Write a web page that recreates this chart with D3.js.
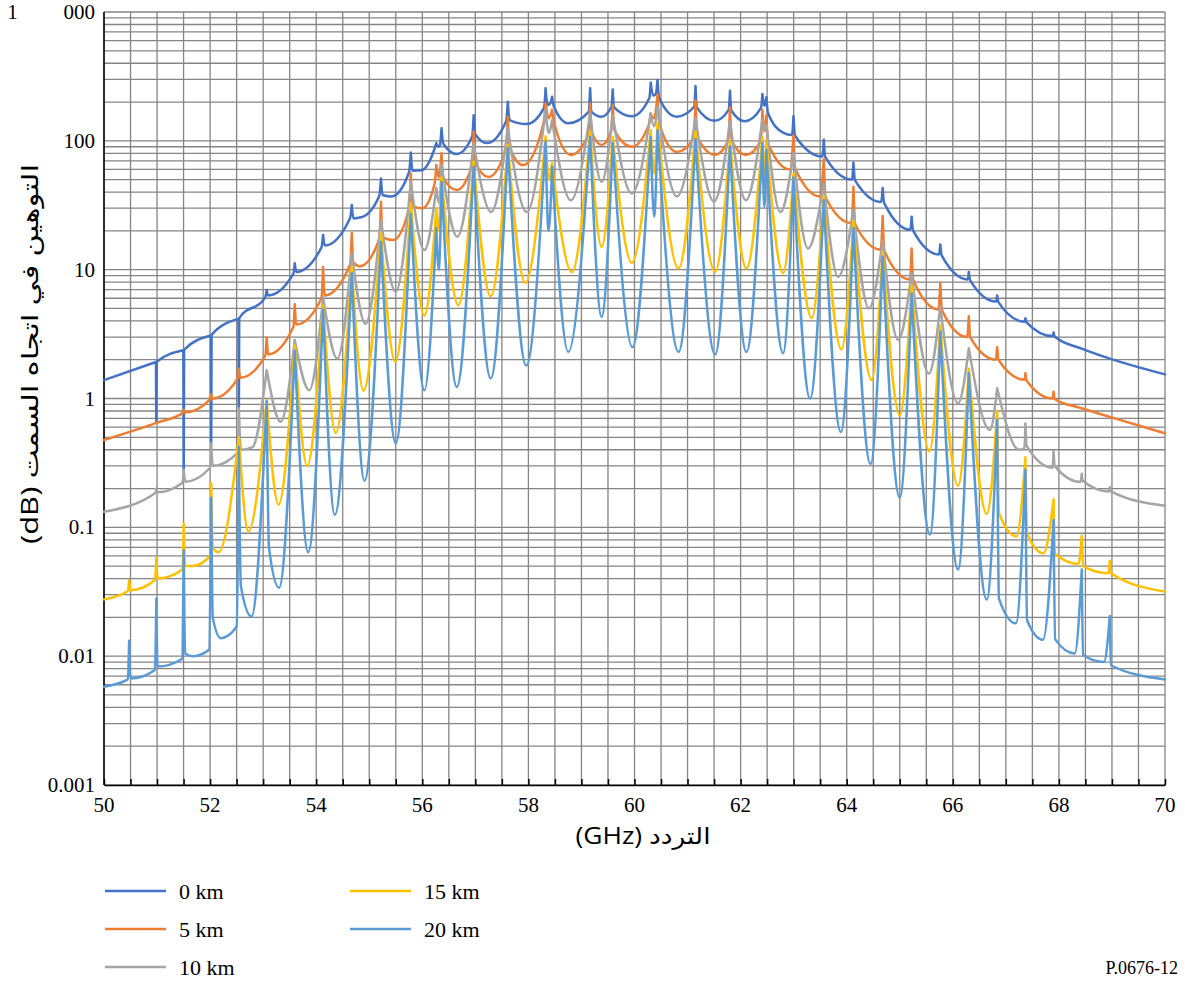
<!DOCTYPE html>
<html>
<head>
<meta charset="utf-8">
<script src="https://cdn.jsdelivr.net/npm/d3@7/dist/d3.min.js"></script>
<style>
  body { margin: 0; background: #fff; }
  text { fill: #000; }
  .serif { font-family: "Liberation Serif", "Times New Roman", serif; }
  .sans { font-family: "Open Sans", "DejaVu Sans", sans-serif; }
</style>
</head>
<body>
<svg id="chart" width="1188" height="981"></svg>
<script>
// series names and colours
const seriesNames = ["0 km", "5 km", "10 km", "15 km", "20 km"];
const seriesColors = ["#4472C4", "#ED7D31", "#A5A5A5", "#FFC000", "#5B9BD5"];

// axis ticks
const xTickValues = [50, 52, 54, 56, 58, 60, 62, 64, 66, 68, 70];
const yTickValues = [0.001, 0.01, 0.1, 1, 10, 100, 1000];
const yTickLabels = ["0.001", "0.01", "0.1", "1", "10", "100", "1 000"];

// zenith attenuation (dB) against frequency (GHz)
const km0 = [
  [50.0, 1.39], [50.98, 1.92], [50.987, 0.65], [50.994, 1.93],
  [51.496, 2.37], [51.503, 0.27], [51.51, 2.39],
  [52.014, 3.08], [52.021, 0.45], [52.028, 3.12],
  [52.535, 4.15], [52.542, 0.84], [52.549, 4.2],
  [53.04, 6.1], [53.067, 6.95], [53.095, 6.3],
  [53.57, 9.3], [53.596, 11.2], [53.625, 9.6],
  [54.10, 14.9], [54.13, 18.6], [54.16, 15.4],
  [54.64, 25.2], [54.671, 31.8], [54.70, 25.0], [54.85, 25.5],
  [55.19, 37.5], [55.221, 51], [55.25, 38], [55.42, 37],
  [55.75, 57], [55.784, 81], [55.815, 58.5], [55.98, 59],
  [56.235, 88], [56.264, 96], [56.30, 90], [56.33, 92], [56.363, 125], [56.395, 95], [56.65, 79],
  [56.94, 108], [56.968, 158], [57.0, 112], [57.22, 96],
  [57.58, 142], [57.612, 201], [57.645, 145], [57.97, 135],
  [58.295, 180], [58.324, 256], [58.36, 190], [58.415, 196], [58.446, 220], [58.48, 185], [58.75, 137],
  [59.135, 168], [59.164, 256], [59.19, 168], [59.38, 154],
  [59.565, 184], [59.59, 250], [59.615, 182], [59.95, 155],
  [60.28, 215], [60.306, 283], [60.35, 225], [60.40, 230], [60.434, 297], [60.465, 215], [60.79, 154],
  [61.125, 184], [61.15, 266], [61.175, 182], [61.51, 143],
  [61.775, 174], [61.8, 245], [61.825, 172], [62.08, 142],
  [62.385, 180], [62.411, 231], [62.448, 187], [62.486, 218], [62.515, 165], [62.80, 116],
  [62.97, 111], [62.997, 156], [63.025, 110],
  [63.54, 75.5], [63.568, 102], [63.595, 75],
  [64.10, 50], [64.127, 68], [64.155, 49.5],
  [64.65, 33.5], [64.678, 43], [64.705, 33],
  [65.20, 20.4], [65.224, 25.8], [65.25, 20.2],
  [65.74, 13.1], [65.764, 15.7], [65.79, 12.9],
  [66.28, 8.4], [66.302, 9.6], [66.325, 8.3],
  [66.815, 5.65], [66.836, 6.3], [66.86, 5.6],
  [67.35, 3.95], [67.369, 4.19], [67.39, 3.9],
  [67.88, 3.05], [67.9, 3.25], [67.92, 3.03],
  [68.43, 2.44], [68.96, 2.04], [70.0, 1.54]
];

const km5 = [
  [50.0, 0.476], [51.0, 0.65],
  [51.48, 0.77], [51.503, 0.82], [51.53, 0.78],
  [51.995, 0.98], [52.021, 1.08], [52.045, 1.0],
  [52.515, 1.42], [52.542, 1.7], [52.57, 1.45],
  [53.04, 2.15], [53.067, 2.98], [53.095, 2.2],
  [53.57, 3.6], [53.596, 5.4], [53.625, 3.75],
  [54.10, 6.0], [54.13, 10.5], [54.16, 6.3],
  [54.64, 11.0], [54.671, 19.3], [54.70, 11.4], [54.82, 10.6],
  [55.19, 17.3], [55.221, 33.7], [55.25, 17.8], [55.45, 17.0],
  [55.75, 30], [55.784, 55.8], [55.815, 31], [56.0, 30],
  [56.235, 47], [56.264, 65], [56.31, 52], [56.363, 80], [56.395, 52], [56.65, 41.5],
  [56.94, 65], [56.968, 118], [57.0, 68], [57.25, 52.4],
  [57.58, 88], [57.612, 154], [57.645, 90], [57.9, 64.8],
  [58.29, 140], [58.324, 195], [58.385, 150], [58.446, 174], [58.48, 140], [58.8, 77.7],
  [59.13, 112], [59.164, 195], [59.2, 115], [59.38, 93],
  [59.555, 118], [59.59, 190], [59.625, 120], [59.95, 90],
  [60.27, 133], [60.306, 163], [60.37, 150], [60.434, 228], [60.47, 135], [60.8, 82],
  [61.115, 105], [61.15, 207], [61.185, 107], [61.52, 77.7],
  [61.765, 100], [61.8, 182], [61.835, 100], [62.1, 77.7],
  [62.38, 100], [62.411, 174], [62.45, 120], [62.486, 158], [62.52, 95], [62.93, 60],
  [62.997, 110], [63.03, 61], [63.5, 37], [63.568, 72], [63.6, 36.5],
  [64.09, 23], [64.127, 44], [64.16, 22.5],
  [64.64, 14.3], [64.678, 26.1], [64.71, 14],
  [65.19, 8.4], [65.224, 14.6], [65.255, 8.3],
  [65.73, 4.9], [65.764, 7.9], [65.795, 4.85],
  [66.27, 3.0], [66.302, 4.34], [66.33, 2.98],
  [66.81, 2.0], [66.836, 2.5], [66.86, 2.0],
  [67.35, 1.4], [67.369, 1.57], [67.39, 1.38],
  [67.88, 1.0], [67.9, 1.13], [67.92, 0.99],
  [68.43, 0.84], [68.96, 0.72], [70.0, 0.537]
];

const km10 = [
  [50.0, 0.132], [50.98, 0.186], [50.987, 0.2], [51.0, 0.187],
  [51.48, 0.222], [51.503, 0.28], [51.53, 0.226],
  [52.0, 0.29], [52.021, 0.45], [52.05, 0.30],
  [52.52, 0.38], [52.542, 0.84], [52.58, 0.40], [52.8, 0.42],
  [53.067, 1.66], [53.33, 0.66],
  [53.596, 2.85], [53.87, 1.16],
  [54.13, 6.1], [54.40, 2.04],
  [54.671, 13.4], [54.93, 3.8],
  [55.221, 24.3], [55.5, 6.75],
  [55.784, 48], [56.04, 14.2],
  [56.264, 43], [56.32, 33], [56.363, 65], [56.66, 18],
  [56.968, 96], [57.3, 28],
  [57.612, 125], [57.97, 28],
  [58.324, 174], [58.385, 115], [58.446, 145], [58.8, 34.6],
  [59.164, 163], [59.38, 48],
  [59.59, 158], [59.95, 39],
  [60.306, 163], [60.37, 130], [60.434, 184], [60.8, 37],
  [61.15, 150], [61.5, 33.7],
  [61.8, 142], [62.1, 34.6],
  [62.411, 147], [62.45, 118], [62.486, 133], [62.75, 28],
  [62.997, 80], [63.27, 14.6],
  [63.568, 46.6], [63.84, 8.8],
  [64.127, 29], [64.42, 5.0],
  [64.678, 16.9], [64.97, 2.85],
  [65.224, 9.4], [65.55, 1.56],
  [65.764, 5.2], [66.1, 0.92],
  [66.302, 2.45], [66.7, 0.57],
  [66.836, 1.2], [67.25, 0.40], [67.35, 0.41],
  [67.369, 0.64], [67.39, 0.43],
  [67.88, 0.29], [67.9, 0.39], [67.92, 0.30],
  [68.41, 0.225], [68.431, 0.26], [68.45, 0.23],
  [68.94, 0.19], [68.96, 0.205], [68.98, 0.19],
  [70.0, 0.147]
];

const km15 = [
  [50.0, 0.0276], [50.45, 0.032], [50.474, 0.0388], [50.50, 0.0325],
  [50.96, 0.039], [50.987, 0.0585], [51.01, 0.040],
  [51.48, 0.047], [51.503, 0.107], [51.53, 0.05], [51.66, 0.05],
  [52.0, 0.06], [52.021, 0.22], [52.05, 0.07], [52.16, 0.064],
  [52.542, 0.5], [52.72, 0.093],
  [53.067, 0.97], [53.29, 0.15],
  [53.596, 2.6], [53.83, 0.30],
  [54.13, 5.3], [54.37, 0.54],
  [54.671, 10.5], [54.89, 1.15],
  [55.221, 19.3], [55.49, 1.93],
  [55.784, 32.6], [56.04, 4.4],
  [56.264, 30], [56.30, 20], [56.363, 52], [56.68, 5.3],
  [56.968, 69], [57.29, 6.2],
  [57.612, 93], [57.94, 7.9],
  [58.324, 108], [58.385, 50], [58.446, 67], [58.82, 9.6],
  [59.164, 118], [59.38, 15],
  [59.59, 107], [59.95, 11.3],
  [60.306, 121], [60.37, 56], [60.434, 137], [60.83, 10.2],
  [61.15, 118], [61.52, 9.6],
  [61.8, 99], [62.11, 10.2],
  [62.411, 107], [62.45, 55], [62.486, 99], [62.8, 9.4],
  [62.997, 55.8], [63.34, 4.2],
  [63.568, 37], [63.9, 2.4],
  [64.127, 24], [64.47, 1.39],
  [64.678, 13.8], [65.0, 0.74],
  [65.224, 7.5], [65.56, 0.39],
  [65.764, 3.7], [66.1, 0.21],
  [66.302, 1.7], [66.64, 0.127],
  [66.836, 0.8], [66.87, 0.13], [67.2, 0.085],
  [67.369, 0.35], [67.40, 0.09], [67.71, 0.063],
  [67.9, 0.165], [67.93, 0.062], [68.37, 0.052],
  [68.431, 0.086], [68.455, 0.050],
  [68.93, 0.044], [68.96, 0.055], [68.98, 0.044],
  [70.0, 0.0317]
];

const km20 = [
  [50.0, 0.0058], [50.45, 0.0066], [50.474, 0.0132], [50.50, 0.0067],
  [50.96, 0.0078], [50.987, 0.028], [51.01, 0.0083],
  [51.47, 0.0095], [51.503, 0.066], [51.53, 0.0105], [51.68, 0.0100],
  [51.98, 0.0112], [52.021, 0.17], [52.05, 0.02], [52.20, 0.0138],
  [52.50, 0.017], [52.542, 0.42], [52.58, 0.035], [52.78, 0.0203],
  [53.067, 0.95], [53.11, 0.07], [53.30, 0.034],
  [53.596, 2.35], [53.85, 0.064],
  [54.13, 4.9], [54.35, 0.125],
  [54.671, 9.4], [54.91, 0.23],
  [55.221, 16.4], [55.5, 0.45],
  [55.784, 27], [56.04, 1.16],
  [56.264, 21], [56.31, 10], [56.363, 48], [56.65, 1.23],
  [56.968, 63], [57.29, 1.43],
  [57.612, 88], [57.96, 1.8],
  [58.324, 99], [58.38, 20], [58.446, 63], [58.75, 2.3],
  [59.164, 107], [59.38, 4.3],
  [59.59, 96], [59.96, 2.5],
  [60.306, 107], [60.37, 25.8], [60.434, 121], [60.83, 2.3],
  [61.15, 103], [61.52, 2.2],
  [61.8, 90], [62.11, 2.3],
  [62.411, 96], [62.45, 30.8], [62.486, 85], [62.8, 2.25],
  [62.997, 52], [63.31, 1.0],
  [63.568, 34.6], [63.89, 0.55],
  [64.127, 21], [64.45, 0.31],
  [64.678, 12.6], [65.0, 0.17],
  [65.224, 6.5], [65.57, 0.088],
  [65.764, 3.3], [66.1, 0.047],
  [66.302, 1.57], [66.64, 0.0275],
  [66.836, 0.68], [66.87, 0.028], [67.19, 0.018],
  [67.369, 0.28], [67.40, 0.019], [67.70, 0.0134],
  [67.9, 0.114], [67.93, 0.0135], [68.30, 0.0105],
  [68.431, 0.047], [68.455, 0.0102], [68.85, 0.009],
  [68.96, 0.0205], [68.98, 0.0085], [70.0, 0.0066]
];

const seriesData = [km0, km5, km10, km15, km20];

const svg = d3.select("#chart");
const plotLeft = 104, plotRight = 1165, plotTop = 12, plotBottom = 785;

const x = d3.scaleLinear().domain([50, 70]).range([plotLeft, plotRight]);
const y = d3.scaleLog().domain([0.001, 1000]).range([plotBottom, plotTop]);

// grid
const grid = svg.append("g").attr("stroke", "#858585").attr("stroke-width", 1.3);
const minorY = [];
for (let e = -3; e < 3; e++) {
  for (let m = 1; m < 10; m++) minorY.push(m * Math.pow(10, e));
}
minorY.push(1000);
grid.selectAll("line.h").data(minorY).enter().append("line")
  .attr("x1", plotLeft).attr("x2", plotRight)
  .attr("y1", d => y(d)).attr("y2", d => y(d));
grid.selectAll("line.v").data(d3.range(50, 70.01, 0.5)).enter().append("line")
  .attr("y1", plotTop).attr("y2", plotBottom)
  .attr("x1", d => x(d)).attr("x2", d => x(d));

// axes
const xAxis = svg.append("g")
  .attr("transform", "translate(0," + plotBottom + ")")
  .call(d3.axisBottom(x).tickValues(d3.range(50, 70.01, 0.5)).tickSizeInner(-6).tickSizeOuter(0).tickFormat(""));
xAxis.selectAll("line").attr("stroke", "#000").attr("stroke-width", 1.5);
xAxis.select(".domain").attr("stroke", "#000").attr("stroke-width", 1.5);

svg.append("line").attr("x1", plotLeft).attr("x2", plotLeft).attr("y1", plotTop).attr("y2", plotBottom)
  .attr("stroke", "#000").attr("stroke-width", 1.5);

svg.append("g").selectAll("text").data(xTickValues).enter().append("text")
  .attr("class", "serif")
  .attr("x", d => x(d)).attr("y", 812)
  .attr("text-anchor", "middle")
  .style("font-size", "21px")
  .text(d => d);

// y labels; the thousands group of "1 000" sits apart from its leading digit, as in the figure
const yLab = svg.append("g").selectAll("text").data(yTickValues).enter().append("text")
  .attr("class", "serif")
  .attr("y", d => y(d) + 7)
  .attr("text-anchor", "end")
  .style("font-size", "21px");
yLab.each(function (d, i) {
  const parts = yTickLabels[i].split(" ");
  const t = d3.select(this);
  if (parts.length === 1) {
    t.attr("x", 95).text(parts[0]);
  } else {
    t.append("tspan").attr("x", 23).text(parts[0] + " ");
    t.append("tspan").attr("x", 95).text(parts[1]);
  }
});

// series
function splitAtPeaks(pts) {
  const parts = [];
  let cur = [pts[0]];
  for (let i = 1; i < pts.length; i++) {
    cur.push(pts[i]);
    if (i < pts.length - 1 && pts[i][1] > pts[i - 1][1] && pts[i][1] > pts[i + 1][1]) {
      parts.push(cur);
      cur = [pts[i]];
    }
  }
  if (cur.length > 1) parts.push(cur);
  return parts;
}

const line = d3.line()
  .x(d => x(d[0]))
  .y(d => y(d[1]))
  .curve(d3.curveMonotoneX);

svg.append("g").selectAll("path").data(seriesData).enter().append("path")
  .attr("d", d => splitAtPeaks(d).map(line).join(""))
  .attr("fill", "none")
  .attr("stroke", (d, i) => seriesColors[i])
  .attr("stroke-width", 2.5)
  .attr("stroke-linejoin", "round")
  .attr("stroke-linecap", "round");

// axis titles
svg.append("text")
  .attr("class", "sans")
  .attr("x", 643).attr("y", 844)
  .attr("text-anchor", "middle")
  .attr("textLength", 135).attr("lengthAdjust", "spacingAndGlyphs")
  .style("font-size", "23px")
  .text("(GHz) التردد");

svg.append("text")
  .attr("class", "sans")
  .attr("transform", "translate(38,354) rotate(-90)")
  .attr("text-anchor", "middle")
  .attr("textLength", 380).attr("lengthAdjust", "spacingAndGlyphs")
  .style("font-size", "23px")
  .text("(dB) التوهين في اتجاه السمت");

// legend
const legendPos = [[105, 891], [105, 929], [105, 967], [350, 891], [350, 929]];
const legend = svg.append("g").selectAll("g").data(seriesNames).enter().append("g")
  .attr("transform", (d, i) => "translate(" + legendPos[i][0] + "," + legendPos[i][1] + ")");
legend.append("line")
  .attr("x1", 0).attr("x2", 61)
  .attr("stroke", (d, i) => seriesColors[i]).attr("stroke-width", 2.5);
legend.append("text")
  .attr("class", "serif")
  .attr("x", 74).attr("y", 8)
  .style("font-size", "22px")
  .text(d => d);

svg.append("text")
  .attr("class", "serif")
  .attr("x", 1178).attr("y", 974)
  .attr("text-anchor", "end")
  .style("font-size", "18px")
  .text("P.0676-12");
</script>
</body>
</html>
